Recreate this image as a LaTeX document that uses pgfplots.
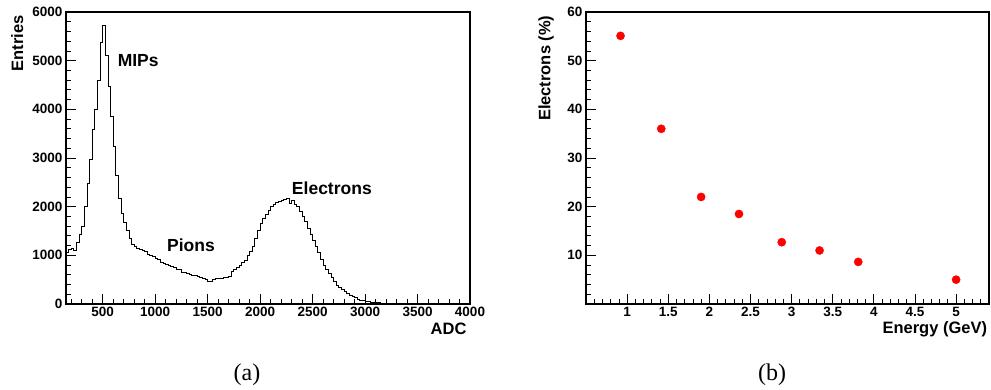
\documentclass[border=0pt]{standalone}
\usepackage{pgfplots}
\pgfplotsset{compat=1.18}
\usepackage{fontspec}
\setmainfont{Liberation Sans}
\newfontfamily\capfont{Liberation Serif}

\pgfplotsset{
  rootstyle/.style={
    scale only axis,
    axis line style={line width=1.2pt},
    xtick pos=lower, ytick pos=left,
    tick align=inside,
    major tick length=10pt, minor tick length=5pt,
    every tick/.style={black, line width=0.8pt},
    tick label style={font=\bfseries\fontsize{13.5}{15}\selectfont},
    /pgf/number format/assume math mode=true,
    /pgf/number format/1000 sep={},
    scaled ticks=false,
    label style={font=\bfseries\fontsize{16.5}{18}\selectfont},
  }
}

\begin{document}
\begin{tikzpicture}
\path[use as bounding box] (0,0) rectangle (991pt,389pt);

% ---------- (a) ADC spectrum ----------
\begin{axis}[rootstyle,
  at={(66pt,85pt)}, anchor=south west, width=404pt, height=292pt,
  xmin=150, xmax=4000, ymin=0, ymax=6000,
  xtick={500,1000,...,4000}, minor xtick={200,300,...,3900},
  ytick={0,1000,...,6000}, minor ytick={200,400,...,5800},
  xlabel={ADC}, ylabel={Entries},
  xlabel style={at={(axis description cs:1,-0.106)}, anchor=base east},
  ylabel style={at={(axis description cs:-0.121,1)}, anchor=east},
]
\addplot[const plot mark left, black, line width=0.9pt, mark=none] table {
x y
150 1060
175 1120
200 1145
225 1100
250 1270
275 1430
300 1600
325 2000
350 2480
375 2960
400 3580
425 4000
450 4590
475 5380
500 5730
525 5100
550 4470
575 3850
600 3230
625 2650
650 2170
675 1860
700 1680
725 1520
750 1350
775 1230
800 1180
825 1145
850 1130
875 1110
900 1075
925 1010
950 1000
975 975
1000 940
1025 915
1050 850
1075 835
1100 810
1125 800
1150 770
1175 760
1200 700
1225 705
1250 655
1275 645
1300 630
1325 610
1350 595
1375 585
1400 570
1425 545
1450 525
1475 500
1500 470
1525 462
1550 505
1575 515
1600 527
1625 535
1650 548
1675 555
1700 565
1725 660
1750 700
1775 750
1800 800
1825 850
1850 900
1875 1000
1900 1080
1925 1180
1950 1350
1975 1520
2000 1650
2025 1750
2050 1830
2075 1930
2100 2000
2125 2050
2150 2080
2175 2110
2200 2137
2225 2150
2250 2160
2275 2069
2300 2137
2325 2040
2350 2000
2375 1900
2400 1800
2425 1700
2450 1560
2475 1430
2500 1300
2525 1180
2550 1050
2575 920
2600 800
2625 700
2650 620
2675 540
2700 460
2725 390
2750 340
2775 290
2800 250
2825 215
2850 180
2875 150
2900 125
2925 100
2950 82
2975 68
3000 56
3025 45
3050 38
3075 31
3100 26
3125 22
3150 18
3175 15
3200 13
3225 11
3250 9
3275 8
3300 7
3325 6
3350 5
3375 4
3400 3
3425 3
3450 2
3475 2
3500 1
3525 1
3550 1
3575 1
3600 0
3625 0
3650 0
3700 0
3800 0
3900 0
4000 0
};
\node[anchor=base west, font=\bfseries\fontsize{17.5}{19}\selectfont] at (axis cs:610,4890) {MIPs};
\node[anchor=base west, font=\bfseries\fontsize{17.5}{19}\selectfont] at (axis cs:1080,1069) {Pions};
\node[anchor=base west, font=\bfseries\fontsize{17.5}{19}\selectfont] at (axis cs:2270,2260) {Electrons};
\end{axis}

% ---------- (b) electron fraction ----------
\begin{axis}[rootstyle,
  at={(586pt,85pt)}, anchor=south west, width=403pt, height=292pt,
  xmin=0.5, xmax=5.4, ymin=0, ymax=60,
  xtick={1,1.5,...,5}, minor xtick={0.6,0.7,...,5.35},
  ytick={10,20,...,60}, minor ytick={2,4,...,58},
  xlabel={Energy (GeV)}, ylabel={Electrons (\%)},
  xlabel style={at={(axis description cs:1.004,-0.10)}, anchor=base east},
  ylabel style={at={(axis description cs:-0.099,1)}, anchor=east},
]
\addplot[only marks, mark=*, mark size=4.1pt, color=red, mark options={draw=red, fill=red}] coordinates {
(0.92,55.1) (1.415,36.0) (1.90,22.0) (2.36,18.5) (2.88,12.7) (3.34,11.0) (3.81,8.65) (5.0,5.0)
};
\end{axis}

\node[anchor=base, font=\capfont\fontsize{24}{26}\selectfont] at (247pt,9pt) {(a)};
\node[anchor=base, font=\capfont\fontsize{24}{26}\selectfont] at (772pt,9pt) {(b)};
\end{tikzpicture}
\end{document}
